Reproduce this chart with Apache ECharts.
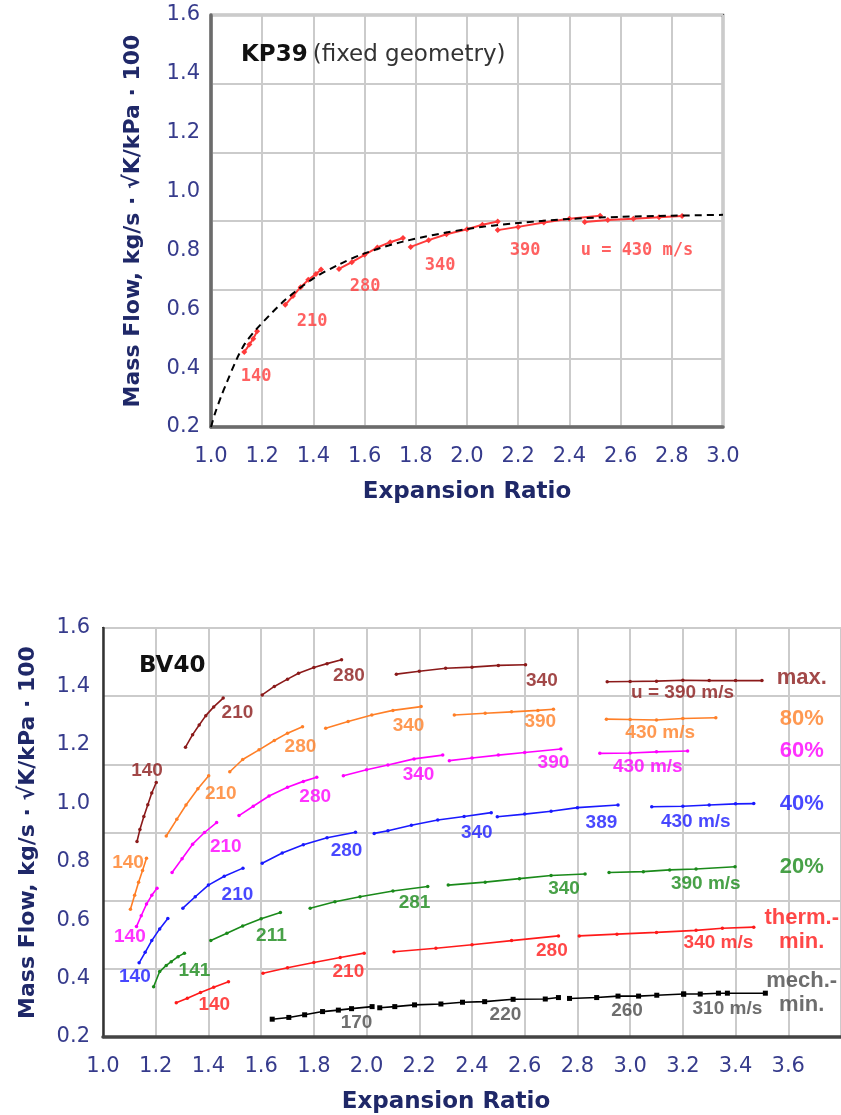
<!DOCTYPE html>
<html>
<head>
<meta charset="utf-8">
<script src="https://cdn.jsdelivr.net/npm/echarts@6/dist/echarts.min.js"></script>
<style>
  html, body { margin: 0; padding: 0; background: #fff; }
  #chart { width: 841px; height: 1115px; }
</style>
</head>
<body>
<div id="chart"></div>
<script>
// ---------- KP39 (top) ----------
const kpCurve = [[1.0, 0.2], [1.016, 0.247], [1.04, 0.305], [1.061, 0.35], [1.1, 0.43], [1.133, 0.484], [1.18, 0.535],
  [1.29, 0.632], [1.4, 0.705], [1.5, 0.752], [1.6, 0.79], [1.75, 0.83], [2.0, 0.873], [2.2, 0.893], [2.4, 0.907],
  [2.6, 0.914], [2.8, 0.918], [3.0, 0.921]]
const kpSegments = [
  [[1.13, 0.455], [1.15, 0.48], [1.165, 0.5], [1.18, 0.525]],
  [[1.29, 0.615], [1.32, 0.645], [1.35, 0.675], [1.38, 0.7], [1.41, 0.72], [1.43, 0.735]],
  [[1.5, 0.737], [1.55, 0.76], [1.6, 0.785], [1.65, 0.81], [1.7, 0.828], [1.75, 0.842]],
  [[1.78, 0.812], [1.85, 0.835], [1.92, 0.855], [2.0, 0.872], [2.06, 0.887], [2.12, 0.898]],
  [[2.12, 0.869], [2.2, 0.88], [2.3, 0.895], [2.4, 0.908], [2.52, 0.918]],
  [[2.46, 0.897], [2.55, 0.903], [2.65, 0.908], [2.75, 0.913], [2.84, 0.917]],
]
const kpLabels = [['140', 1.176, 0.37], ['210', 1.395, 0.557], ['280', 1.602, 0.676], ['340', 1.895, 0.75],
  ['390', 2.227, 0.801], ['u = 430 m/s', 2.664, 0.801]]

// ---------- BV40 (bottom) ----------
const maxSegs = [
  [[1.129, 0.869], [1.14, 0.91], [1.155, 0.955], [1.17, 0.995], [1.185, 1.035], [1.202, 1.071]],
  [[1.313, 1.192], [1.34, 1.235], [1.365, 1.268], [1.39, 1.3], [1.42, 1.33], [1.456, 1.36]],
  [[1.604, 1.371], [1.65, 1.4], [1.7, 1.425], [1.742, 1.445], [1.8, 1.465], [1.85, 1.478], [1.905, 1.491]],
  [[2.113, 1.442], [2.2, 1.452], [2.3, 1.462], [2.4, 1.466], [2.5, 1.472], [2.603, 1.474]],
  [[2.913, 1.416], [3.0, 1.417], [3.1, 1.418], [3.2, 1.421], [3.3, 1.42], [3.4, 1.42], [3.5, 1.42]],
]
const maxLabels = [['140', 1.167, 1.112], ['210', 1.51, 1.31], ['280', 1.933, 1.436], ['340', 2.665, 1.42],
  ['u = 390 m/s', 3.199, 1.379]]

const p80Segs = [
  [[1.104, 0.637], [1.12, 0.685], [1.135, 0.73], [1.15, 0.77], [1.165, 0.812]],
  [[1.24, 0.888], [1.28, 0.945], [1.315, 0.994], [1.36, 1.05], [1.401, 1.094]],
  [[1.481, 1.108], [1.53, 1.15], [1.592, 1.183], [1.65, 1.215], [1.7, 1.24], [1.757, 1.262]],
  [[1.845, 1.257], [1.93, 1.28], [2.02, 1.302], [2.1, 1.318], [2.207, 1.331]],
  [[2.333, 1.302], [2.45, 1.308], [2.55, 1.313], [2.65, 1.318], [2.709, 1.322]],
  [[2.91, 1.288], [3.0, 1.287], [3.1, 1.285], [3.2, 1.29], [3.325, 1.293]],
]
const p80Labels = [['140', 1.095, 0.795], ['210', 1.447, 1.032], ['280', 1.749, 1.192], ['340', 2.159, 1.265],
  ['390', 2.659, 1.279], ['430 m/s', 3.114, 1.242]]

const p60Segs = [
  [[1.127, 0.578], [1.145, 0.615], [1.165, 0.655], [1.185, 0.685], [1.205, 0.709]],
  [[1.262, 0.763], [1.3, 0.81], [1.34, 0.86], [1.385, 0.9], [1.431, 0.934]],
  [[1.516, 0.958], [1.57, 0.99], [1.63, 1.025], [1.7, 1.055], [1.76, 1.075], [1.811, 1.089]],
  [[1.912, 1.094], [2.0, 1.115], [2.081, 1.131], [2.18, 1.152], [2.289, 1.165]],
  [[2.314, 1.146], [2.4, 1.155], [2.5, 1.165], [2.6, 1.174], [2.737, 1.186]],
  [[2.885, 1.171], [3.0, 1.172], [3.1, 1.176], [3.218, 1.179]],
]
const p60Labels = [['140', 1.102, 0.543], ['210', 1.466, 0.852], ['280', 1.805, 1.023], ['340', 2.197, 1.097],
  ['390', 2.709, 1.137], ['430 m/s', 3.067, 1.125]]

const p40Segs = [
  [[1.137, 0.454], [1.16, 0.49], [1.185, 0.53], [1.215, 0.57], [1.246, 0.606]],
  [[1.303, 0.641], [1.35, 0.68], [1.4, 0.72], [1.46, 0.75], [1.531, 0.778]],
  [[1.604, 0.795], [1.68, 0.83], [1.76, 0.858], [1.85, 0.882], [1.958, 0.901]],
  [[2.029, 0.897], [2.081, 0.906], [2.17, 0.925], [2.27, 0.943], [2.37, 0.955], [2.473, 0.968]],
  [[2.496, 0.954], [2.6, 0.963], [2.7, 0.973], [2.8, 0.985], [2.954, 0.994]],
  [[3.082, 0.988], [3.2, 0.99], [3.3, 0.994], [3.4, 0.998], [3.469, 0.999]],
]
const p40Labels = [['140', 1.121, 0.406], ['210', 1.51, 0.686], ['280', 1.924, 0.838], ['340', 2.418, 0.899],
  ['389', 2.891, 0.934], ['430 m/s', 3.249, 0.937]]

const p20Segs = [
  [[1.192, 0.372], [1.215, 0.424], [1.24, 0.445], [1.259, 0.458], [1.285, 0.475], [1.309, 0.487]],
  [[1.409, 0.53], [1.47, 0.555], [1.53, 0.58], [1.6, 0.605], [1.673, 0.626]],
  [[1.786, 0.641], [1.88, 0.663], [1.975, 0.68], [2.1, 0.7], [2.232, 0.715]],
  [[2.31, 0.72], [2.45, 0.73], [2.58, 0.742], [2.7, 0.753], [2.829, 0.758]],
  [[2.92, 0.763], [3.05, 0.766], [3.15, 0.772], [3.25, 0.775], [3.398, 0.783]],
]
const p20Labels = [['141', 1.347, 0.427], ['211', 1.639, 0.546], ['281', 2.182, 0.658], ['340', 2.749, 0.709],
  ['390 m/s', 3.287, 0.726]]

const thermSegs = [
  [[1.278, 0.317], [1.32, 0.333], [1.37, 0.352], [1.42, 0.37], [1.476, 0.389]],
  [[1.607, 0.418], [1.7, 0.437], [1.8, 0.455], [1.9, 0.472], [1.991, 0.487]],
  [[2.104, 0.492], [2.263, 0.504], [2.4, 0.516], [2.55, 0.53], [2.728, 0.546]],
  [[2.807, 0.546], [2.95, 0.552], [3.1, 0.558], [3.25, 0.565], [3.35, 0.572], [3.469, 0.576]],
]
const thermLabels = [['140', 1.422, 0.31], ['210', 1.931, 0.424], ['280', 2.703, 0.495], ['340 m/s', 3.335, 0.523]]

const mechSegs = [
  [[1.642, 0.261], [1.705, 0.267], [1.765, 0.276], [1.833, 0.287], [1.893, 0.292], [1.943, 0.297], [2.021, 0.304]],
  [[2.05, 0.3], [2.107, 0.304], [2.182, 0.31], [2.282, 0.313], [2.364, 0.319], [2.448, 0.321], [2.556, 0.329],
    [2.678, 0.33], [2.728, 0.335]],
  [[2.77, 0.332], [2.873, 0.335], [2.954, 0.34], [3.032, 0.34], [3.101, 0.343], [3.203, 0.347]],
  [[3.203, 0.347], [3.266, 0.347], [3.335, 0.35], [3.369, 0.35], [3.513, 0.35]],
]
const mechLabels = [['170', 1.962, 0.249], ['220', 2.527, 0.275], ['260', 2.988, 0.29], ['310 m/s', 3.369, 0.298]]

const familyNames = ['max.', '80%', '60%', '40%', '20%', 'therm.-\nmin.', 'mech.-\nmin.']
const familyLabelY = [1.428, 1.288, 1.179, 0.998, 0.781, 0.566, 0.35]
const familyLabelX = 3.651

// ---------- styles ----------
const tickColor = '#363b8c'
const titleColor = '#1f2868'
const gridColor = '#cbcbcb'
const kpRed = '#ff3a3a'
const families = [
  { segs: maxSegs, labels: maxLabels, color: '#8b1a1a', text: '#8b1a1a', symbol: 'circle' },
  { segs: p80Segs, labels: p80Labels, color: '#ff7f27', text: '#ff7f27', symbol: 'circle' },
  { segs: p60Segs, labels: p60Labels, color: '#ff00ff', text: '#ff00ff', symbol: 'circle' },
  { segs: p40Segs, labels: p40Labels, color: '#1a1aff', text: '#1a1aff', symbol: 'circle' },
  { segs: p20Segs, labels: p20Labels, color: '#1a8a1a', text: '#1a8a1a', symbol: 'circle' },
  { segs: thermSegs, labels: thermLabels, color: '#ff1a1a', text: '#ff1a1a', symbol: 'circle' },
  { segs: mechSegs, labels: mechLabels, color: '#000000', text: '#4a4a4a', symbol: 'rect' },
]

const chart = echarts.init(document.getElementById('chart'), null, { renderer: 'canvas' })

function xAxisFor(gridIndex, max, nameGap, namePad) {
  return {
    type: 'value', gridIndex, min: 1, max, interval: 0.2,
    axisLine: { onZero: false, lineStyle: { color: gridIndex === 0 ? '#6b6b6b' : '#444', width: 3.5 } },
    axisTick: { show: false },
    axisLabel: {
      formatter: (v) => v.toFixed(1), fontSize: 21, fontFamily: 'DejaVu Sans', color: tickColor, margin: 19,
      showMaxLabel: max < 3.5,
    },
    splitLine: { show: true, lineStyle: { color: gridColor, width: 2 } },
    name: 'Expansion Ratio', nameLocation: 'middle', nameGap,
    nameTextStyle: { fontSize: 23, fontWeight: 'bold', fontFamily: 'DejaVu Sans', color: titleColor, padding: namePad },
  }
}

function yAxisFor(gridIndex, nameGap, margin) {
  return {
    type: 'value', gridIndex, min: 0.2, max: 1.6, interval: 0.2,
    axisLine: { show: true, onZero: false, lineStyle: { color: gridIndex === 0 ? '#6b6b6b' : '#333', width: gridIndex === 0 ? 3.5 : 2.5 } },
    axisTick: { show: false },
    axisLabel: { formatter: (v) => v.toFixed(1), fontSize: 21, fontFamily: 'DejaVu Sans', color: tickColor, margin },
    splitLine: { show: false },
    name: 'Mass Flow, kg/s · √K/kPa · 100', nameLocation: 'middle', nameGap,
    nameTextStyle: { fontSize: 22, fontWeight: 'bold', fontFamily: 'DejaVu Sans', color: titleColor },
  }
}

// hidden axis that only draws the 6 horizontal grid bands
function gridAxisFor(gridIndex) {
  return {
    type: 'value', gridIndex, min: 0, max: 6, interval: 1, position: 'left',
    axisLine: { show: false }, axisTick: { show: false }, axisLabel: { show: false },
    splitLine: { show: true, lineStyle: { color: gridColor, width: 2 } },
  }
}

function labelSeries(items, xAxisIndex, yAxisIndex, style) {
  return {
    type: 'scatter', xAxisIndex, yAxisIndex, silent: true, z: 5,
    symbolSize: 1, itemStyle: { color: 'rgba(0,0,0,0)' },
    label: { show: true, position: 'inside', formatter: '{b}', ...style },
    data: items.map((d) => ({ name: d[0], value: [d[1], d[2]] })),
  }
}

const series = []

// top chart
series.push({
  type: 'line', xAxisIndex: 0, yAxisIndex: 0, data: kpCurve, smooth: 0.3,
  showSymbol: false, z: 4, lineStyle: { color: '#000', width: 2, type: [7, 5] },
})
kpSegments.forEach((seg) => {
  series.push({
    type: 'line', xAxisIndex: 0, yAxisIndex: 0, data: seg, symbol: 'diamond', symbolSize: 6, z: 3,
    lineStyle: { color: kpRed, width: 2 }, itemStyle: { color: kpRed },
  })
})
series.push(labelSeries(kpLabels, 0, 0, {
  color: kpRed, fontSize: 17, fontWeight: 'bold', fontFamily: 'DejaVu Sans Mono',
}))

// bottom chart
families.forEach((f) => {
  f.segs.forEach((seg) => {
    series.push({
      type: 'line', xAxisIndex: 1, yAxisIndex: 2, data: seg, symbol: f.symbol,
      symbolSize: f.symbol === 'rect' ? 5 : 3.5, z: 3,
      lineStyle: { color: f.color, width: 1.6 }, itemStyle: { color: f.color },
    })
  })
  series.push(labelSeries(f.labels, 1, 2, {
    color: f.text, fontSize: 19, fontWeight: 'bold', fontFamily: 'Liberation Sans',
  }))
})
const familySeries = labelSeries(familyNames.map((n, i) => [n, familyLabelX, familyLabelY[i]]), 1, 2, {
  fontSize: 22, fontWeight: 'bold', fontFamily: 'Liberation Sans', lineHeight: 24, align: 'center',
})
familySeries.data.forEach((d, i) => {
  d.label = { color: families[i].text }
})
series.push(familySeries)

chart.setOption({
  animation: false,
  backgroundColor: '#fff',
  title: [
    {
      text: '{b|KP39} {r|(fixed geometry)}', left: 241, top: 44, padding: 0,
      textStyle: {
        fontWeight: 'normal',
        rich: {
          b: { fontSize: 23, fontWeight: 'bold', fontFamily: 'DejaVu Sans', color: '#111' },
          r: { fontSize: 23, fontWeight: 'normal', fontFamily: 'DejaVu Sans', color: '#333' },
        },
      },
    },
    {
      text: 'BV40', left: 139, top: 655, padding: 0,
      textStyle: { fontSize: 23, fontWeight: 'bold', fontFamily: 'DejaVu Sans', color: '#111' },
    },
  ],
  grid: [
    { left: 211, top: 15, width: 512, height: 412, show: true, borderColor: '#555', borderWidth: 2.5 },
    { left: 103, top: 628, width: 743, height: 409, show: true, borderColor: '#333', borderWidth: 2 },
  ],
  xAxis: [xAxisFor(0, 3.0, 54, 0), xAxisFor(1, 3.8, 54, [0, 52, 0, 0])],
  yAxis: [yAxisFor(0, 67, 11), gridAxisFor(0), yAxisFor(1, 64, 13), gridAxisFor(1)],
  series,
})
</script>
</body>
</html>
